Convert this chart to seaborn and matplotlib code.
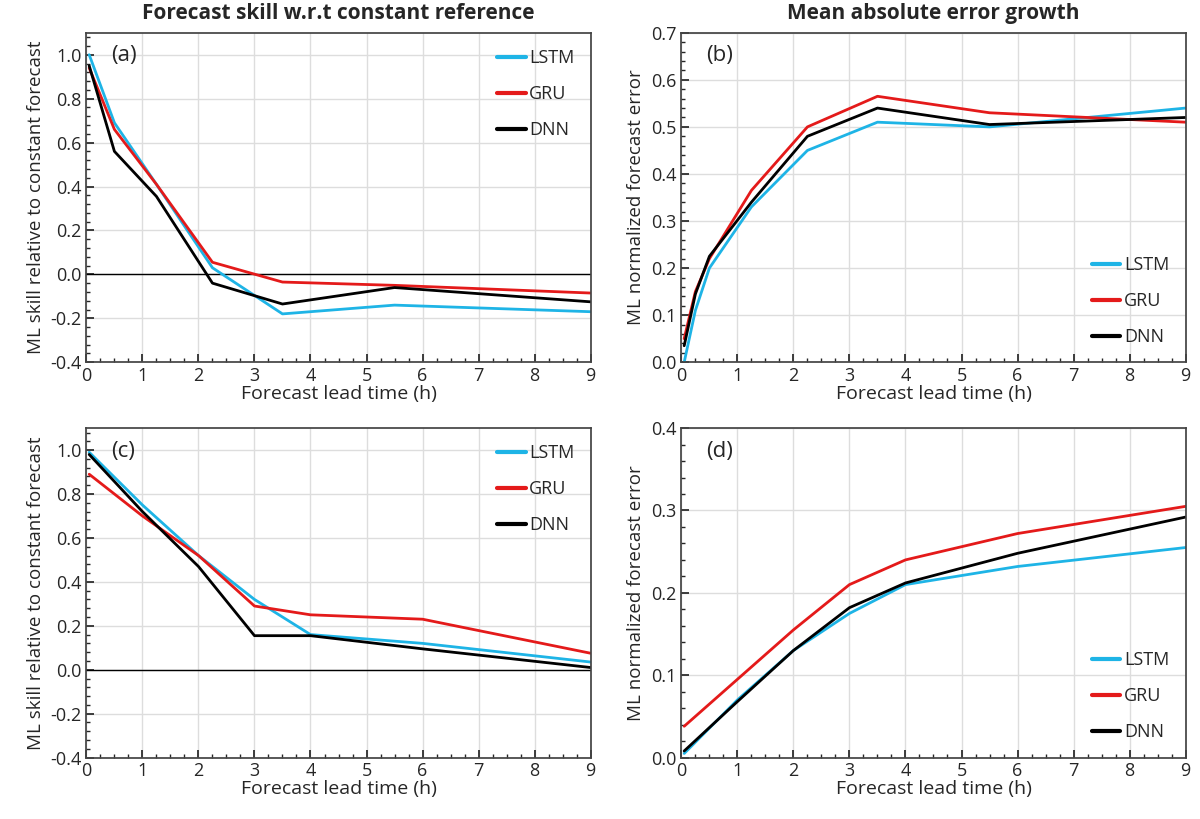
import matplotlib
matplotlib.use("Agg")
import matplotlib.pyplot as plt
import seaborn as sns
import pandas as pd
from matplotlib.ticker import MultipleLocator

sns.set_theme(style="whitegrid")
plt.rcParams["font.family"] = ["Open Sans", "DejaVu Sans"]

MODELS = ["LSTM", "GRU", "DNN"]
COLORS = {"LSTM": "#1eb4e6", "GRU": "#e41a1a", "DNN": "#000000"}

# panel (a) skill, top row
lead_a = [0.05, 0.5, 1.25, 2.25, 3.5, 5.5, 9]
skill_a = {
    "LSTM": [1.0, 0.69, 0.41, 0.03, -0.18, -0.14, -0.17],
    "GRU": [0.94, 0.66, 0.41, 0.055, -0.035, -0.05, -0.085],
    "DNN": [0.95, 0.56, 0.355, -0.04, -0.135, -0.06, -0.125],
}
# panel (b) mae, top row
lead_b = [0.05, 0.25, 0.5, 1.25, 2.25, 3.5, 5.5, 9]
mae_b = {
    "LSTM": [0.0, 0.11, 0.2, 0.33, 0.45, 0.51, 0.5, 0.54],
    "GRU": [0.05, 0.15, 0.22, 0.365, 0.5, 0.565, 0.53, 0.51],
    "DNN": [0.035, 0.145, 0.225, 0.34, 0.48, 0.54, 0.505, 0.52],
}
# panel (c) skill, bottom row
lead_c = [0.05, 1, 2, 3, 4, 6, 9]
skill_c = {
    "LSTM": [0.99, 0.75, 0.52, 0.32, 0.16, 0.12, 0.035],
    "GRU": [0.89, 0.70, 0.52, 0.29, 0.25, 0.23, 0.075],
    "DNN": [0.98, 0.72, 0.47, 0.155, 0.155, 0.095, 0.01],
}
# panel (d) mae, bottom row
lead_d = [0.05, 1, 2, 3, 4, 6, 9]
mae_d = {
    "LSTM": [0.005, 0.07, 0.13, 0.175, 0.21, 0.232, 0.255],
    "GRU": [0.038, 0.095, 0.155, 0.21, 0.24, 0.272, 0.305],
    "DNN": [0.008, 0.068, 0.13, 0.182, 0.212, 0.248, 0.292],
}


def to_frame(lead, series):
    rows = []
    for m in MODELS:
        for x, y in zip(lead, series[m]):
            rows.append({"lead": x, "value": y, "model": m})
    return pd.DataFrame(rows)


def draw(ax, lead, series, ylim, ystep, ylabel, tag, legend_loc, zero=False):
    df = to_frame(lead, series)
    sns.lineplot(data=df, x="lead", y="value", hue="model", palette=COLORS,
                 ax=ax, linewidth=2, estimator=None, sort=False)
    if zero:
        ax.axhline(0, color="black", linewidth=1, zorder=1)
    ax.set_xlim(0, 9)
    ax.set_ylim(*ylim)
    ax.xaxis.set_major_locator(MultipleLocator(1))
    ax.xaxis.set_minor_locator(MultipleLocator(0.25))
    ax.yaxis.set_major_locator(MultipleLocator(ystep))
    ax.yaxis.set_minor_locator(MultipleLocator(ystep / 5))
    ax.tick_params(which="both", direction="in", bottom=True, left=True,
                   labelsize=13)
    ax.tick_params(which="major", length=6)
    ax.tick_params(which="minor", length=3)
    ax.grid(True, which="major", color="#dddddd", linewidth=1)
    for s in ax.spines.values():
        s.set_edgecolor("#444444")
    ax.set_xlabel("Forecast lead time (h)", fontsize=14, labelpad=0)
    ax.set_ylabel(ylabel, fontsize=13.5)
    ax.yaxis.set_major_formatter(plt.FuncFormatter(lambda v, p: f"{v:.1f}"))
    ax.text(0.05, 0.93, tag, transform=ax.transAxes, fontsize=16, va="center")
    leg = ax.legend(title=None, loc=legend_loc, frameon=False, fontsize=13,
                    handlelength=1.6, handletextpad=0.2, labelspacing=1.0)
    for line in leg.get_lines():
        line.set_linewidth(3)


fig, axes = plt.subplots(2, 2, figsize=(12, 8.19), dpi=100)
plt.subplots_adjust(left=0.072, right=0.988, top=0.96, bottom=0.075,
                    wspace=0.18, hspace=0.2)

skill_label = "ML skill relative to constant forecast"
mae_label = "ML normalized forecast error"
draw(axes[0, 0], lead_a, skill_a, (-0.4, 1.1), 0.2, skill_label, "(a)",
     "upper right", zero=True)
draw(axes[0, 1], lead_b, mae_b, (0, 0.7), 0.1, mae_label, "(b)", "lower right")
draw(axes[1, 0], lead_c, skill_c, (-0.4, 1.1), 0.2, skill_label, "(c)",
     "upper right", zero=True)
draw(axes[1, 1], lead_d, mae_d, (0, 0.4), 0.1, mae_label, "(d)", "lower right")

axes[0, 0].set_title("Forecast skill w.r.t constant reference",
                     fontsize=15, fontweight="bold", pad=10)
axes[0, 1].set_title("Mean absolute error growth",
                     fontsize=15, fontweight="bold", pad=10)

fig.savefig("out.png", dpi=100)
